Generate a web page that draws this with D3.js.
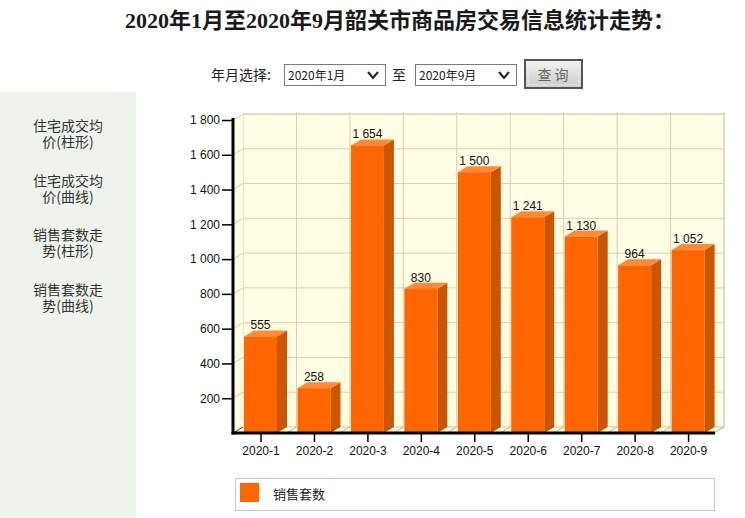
<!DOCTYPE html>
<html><head><meta charset="utf-8">
<script src="https://cdn.jsdelivr.net/npm/d3@7"></script>
<style>html,body{margin:0;padding:0;background:#fff;}svg{display:block;}</style>
</head><body>
<script>
const months = ["2020-1","2020-2","2020-3","2020-4","2020-5","2020-6","2020-7","2020-8","2020-9"];
const sales = [555,258,1654,830,1500,1241,1130,964,1052];
const yTicks = [200,400,600,800,1000,1200,1400,1600,1800];
const seriesName = "销售套数";
const titleText = "2020年1月至2020年9月韶关市商品房交易信息统计走势：";
const menuItems = [["住宅成交均","价(柱形)"],["住宅成交均","价(曲线)"],["销售套数走","势(柱形)"],["销售套数走","势(曲线)"]];

const W=745,H=518;
const svg=d3.select("body").append("svg").attr("width",W).attr("height",H);
const CJK='"Noto Sans CJK SC", sans-serif';
const ARIAL='"Liberation Sans", Arial, sans-serif';

// title
svg.append("text").attr("x",400).attr("y",28).attr("text-anchor","middle")
  .attr("font-family",'"Liberation Serif", "Noto Sans CJK SC", serif').attr("font-size",22).attr("font-weight","bold")
  .attr("fill","#1a1a1a").text(titleText);

// controls
const cy=75;
svg.append("text").attr("x",211).attr("y",cy+5).attr("font-family",CJK).attr("font-size",14).attr("fill","#222").text("年月选择:");
function selectBox(x,label){
  const g=svg.append("g");
  g.append("rect").attr("x",x+0.5).attr("y",64.5).attr("width",101).attr("height",21).attr("fill","#fff").attr("stroke","#7a7a7a");
  g.append("text").attr("x",x+4).attr("y",80).attr("font-family",CJK).attr("font-size",12).attr("fill","#222").text(label);
  g.append("path").attr("d",`M${x+84},72 L${x+89},78 L${x+94},72`).attr("fill","none").attr("stroke","#222").attr("stroke-width",2);
}
selectBox(284,"2020年1月");
svg.append("text").attr("x",392).attr("y",cy+5).attr("font-family",CJK).attr("font-size",14).attr("fill","#222").text("至");
selectBox(415,"2020年9月");
const grad=svg.append("defs").append("linearGradient").attr("id","btn").attr("x1",0).attr("y1",0).attr("x2",0).attr("y2",1);
grad.append("stop").attr("offset","0%").attr("stop-color","#f4f4f4");
grad.append("stop").attr("offset","100%").attr("stop-color","#c9c9c9");
svg.append("rect").attr("x",525).attr("y",60).attr("width",57).attr("height",28).attr("fill","url(#btn)").attr("stroke","#555").attr("stroke-width",2);
svg.append("rect").attr("x",528).attr("y",63).attr("width",51).attr("height",22).attr("fill","none").attr("stroke","#e8e8e8").attr("stroke-width",1);
svg.append("text").attr("x",553).attr("y",80).attr("text-anchor","middle").attr("font-family",CJK).attr("font-size",14).attr("fill","#666").text("查 询");

// sidebar
svg.append("rect").attr("x",0).attr("y",92).attr("width",136).attr("height",H-92).attr("fill","#eef3eb");
menuItems.forEach((m,i)=>{
  const by=131+i*54.5;
  const t=svg.append("text").attr("text-anchor","middle").attr("font-family",CJK).attr("font-size",14).attr("fill","#333");
  m.forEach((s,j)=>t.append("tspan").attr("x",68).attr("y",by+j*16).text(s));
});

// chart
const X0=233,X1=714,dx=10,dy=-6;
const x=d3.scaleBand().domain(months).range([X0,X1]).paddingInner(0).paddingOuter(0);
const y=d3.scaleLinear().domain([0,1800]).range([433,120]);
const step=x.step();
const gridC="#d6d0b2";
// back wall
svg.append("rect").attr("x",X0+dx).attr("y",y(1800)+dy).attr("width",X1-X0).attr("height",y(0)-y(1800)).attr("fill","#fffde3").attr("stroke",gridC);
// left wall
svg.append("path").attr("d",`M${X0},${y(1800)} L${X0+dx},${y(1800)+dy} L${X0+dx},${y(0)+dy} L${X0},${y(0)} Z`).attr("fill","#fffbe0");
// floor
svg.append("path").attr("d",`M${X0},${y(0)} L${X0+dx},${y(0)+dy} L${X1+dx},${y(0)+dy} L${X1},${y(0)} Z`).attr("fill","#fff8dc").attr("stroke",gridC).attr("stroke-width",0.8);
// horizontal grid
yTicks.forEach(v=>{
  svg.append("line").attr("x1",X0+dx).attr("x2",X1+dx).attr("y1",y(v)+dy).attr("y2",y(v)+dy).attr("stroke",gridC);
  svg.append("line").attr("x1",X0).attr("x2",X0+dx).attr("y1",y(v)).attr("y2",y(v)+dy).attr("stroke",gridC);
});
// vertical grid
months.forEach((m,i)=>{
  const bx=x(m)+step;
  svg.append("line").attr("x1",bx+dx).attr("x2",bx+dx).attr("y1",y(1800)+dy-2).attr("y2",y(0)+dy).attr("stroke",gridC);
  svg.append("line").attr("x1",bx).attr("x2",bx+dx).attr("y1",y(0)).attr("y2",y(0)+dy).attr("stroke","#b8b39a");
});
svg.append("line").attr("x1",X0).attr("x2",X0+dx).attr("y1",y(0)).attr("y2",y(0)+dy).attr("stroke","#555");

// bars
const bw=33;
const fmt=v=>d3.format(",")(v).replace(/,/g," ");
months.forEach((m,i)=>{
  const v=sales[i];
  const cx=x(m)+step/2+0.8;
  const bx=cx-bw/2, yt=y(v), yb=y(0);
  const g=svg.append("g");
  g.append("path").attr("d",`M${bx+bw},${yt} L${bx+bw+dx},${yt+dy} L${bx+bw+dx},${yb+dy} L${bx+bw},${yb} Z`).attr("fill","#cc5500");
  g.append("path").attr("d",`M${bx},${yt} L${bx+dx},${yt+dy} L${bx+bw+dx},${yt+dy} L${bx+bw},${yt} Z`).attr("fill","#ff8a3a");
  g.append("rect").attr("x",bx).attr("y",yt).attr("width",bw).attr("height",yb-yt).attr("fill","#ff6600");
  g.append("text").attr("x",cx).attr("y",yt-7).attr("text-anchor","middle").attr("font-family",ARIAL).attr("font-size",12).attr("fill","#111").text(fmt(v));
});

// axes
const yAxis=d3.axisLeft(y).tickValues(yTicks).tickSize(11).tickPadding(2).tickFormat(fmt);
const ya=svg.append("g").attr("transform",`translate(${X0},0)`).call(yAxis);
ya.select(".domain").remove();
ya.selectAll("line").attr("stroke","#000").attr("stroke-width",1.5);
ya.selectAll("text").attr("font-family",ARIAL).attr("font-size",12).attr("fill","#111");
const xAxis=d3.axisBottom(x).tickSize(9).tickPadding(4);
const xa=svg.append("g").attr("transform",`translate(1.3,${y(0)})`).call(xAxis);
xa.select(".domain").remove();
xa.selectAll("line").attr("stroke","#000").attr("stroke-width",1.5);
xa.selectAll("text").attr("font-family",ARIAL).attr("font-size",12).attr("fill","#111");
svg.append("line").attr("x1",X0).attr("x2",X0).attr("y1",118).attr("y2",y(0)+1.5).attr("stroke","#000").attr("stroke-width",3);
svg.append("line").attr("x1",X0-1.5).attr("x2",X1+1).attr("y1",y(0)).attr("y2",y(0)).attr("stroke","#000").attr("stroke-width",3);

// legend
svg.append("rect").attr("x",235.5).attr("y",478.5).attr("width",479).attr("height",32).attr("fill","#fff").attr("stroke","#c8c8c8");
svg.append("rect").attr("x",240).attr("y",483).attr("width",19).attr("height",19).attr("fill","#ff6600");
svg.append("text").attr("x",273).attr("y",499).attr("font-family",CJK).attr("font-size",13).attr("fill","#222").text(seriesName);
</script>
</body></html>
